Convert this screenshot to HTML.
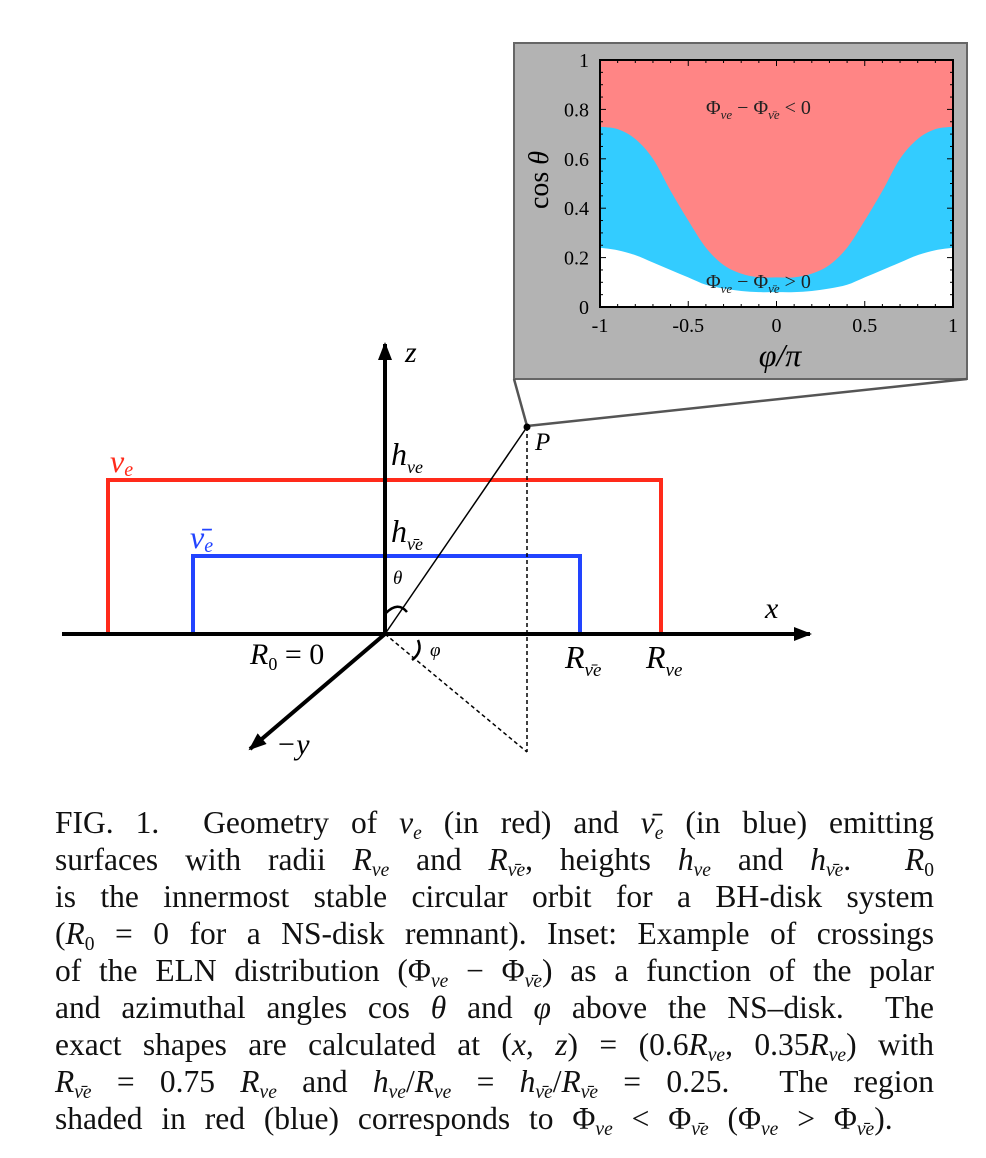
<!DOCTYPE html>
<html><head><meta charset="utf-8">
<style>
body{margin:0;background:#fff;width:986px;height:1158px;overflow:hidden;position:relative;font-family:"Liberation Serif",serif;}
svg{position:absolute;left:0;top:0}
.cap{position:absolute;left:55px;width:879px;font-size:31.5px;text-align:justify;text-align-last:justify;white-space:nowrap;line-height:1;color:#111}
.cap.last{text-align-last:left}
.cap i{font-style:italic}
.cap sub{font-size:0.62em;vertical-align:-0.3em;font-style:italic}
</style></head><body>
<svg id="fig" width="986" height="1158"></svg>

<div class="cap" style="top:807px">FIG. 1.&nbsp; Geometry of <i>ν<sub>e</sub></i> (in red) and <i>ν̄<sub>e</sub></i> (in blue) emitting</div>
<div class="cap" style="top:844px">surfaces with radii <i>R<sub>νe</sub></i> and <i>R<sub>ν̄e</sub></i>, heights <i>h<sub>νe</sub></i> and <i>h<sub>ν̄e</sub></i>.&nbsp; <i>R</i><sub style="font-style:normal">0</sub></div>
<div class="cap" style="top:881px">is the innermost stable circular orbit for a BH-disk system</div>
<div class="cap" style="top:918px">(<i>R</i><sub style="font-style:normal">0</sub> = 0 for a NS-disk remnant). Inset: Example of crossings</div>
<div class="cap" style="top:955px">of the ELN distribution (Φ<sub>νe</sub> − Φ<sub>ν̄e</sub>) as a function of the polar</div>
<div class="cap" style="top:992px">and azimuthal angles cos <i>θ</i> and <i>φ</i> above the NS–disk.&nbsp; The</div>
<div class="cap" style="top:1029px">exact shapes are calculated at (<i>x, z</i>) = (0.6<i>R<sub>νe</sub></i>, 0.35<i>R<sub>νe</sub></i>) with</div>
<div class="cap" style="top:1066px"><i>R<sub>ν̄e</sub></i> = 0.75 <i>R<sub>νe</sub></i> and <i>h<sub>νe</sub></i>/<i>R<sub>νe</sub></i> = <i>h<sub>ν̄e</sub></i>/<i>R<sub>ν̄e</sub></i> = 0.25.&nbsp; The region</div>
<div class="cap last" style="top:1103px;word-spacing:11px">shaded in red (blue) corresponds to Φ<sub>νe</sub> &lt; Φ<sub>ν̄e</sub> (Φ<sub>νe</sub> &gt; Φ<sub>ν̄e</sub>).</div>

<script>
const phiVals=[-1,-0.9,-0.8,-0.7,-0.6,-0.5,-0.4,-0.3,-0.2,-0.1,0,0.1,0.2,0.3,0.4,0.5,0.6,0.7,0.8,0.9,1];
const upperCos=[0.73,0.72,0.68,0.6,0.47,0.35,0.24,0.17,0.135,0.12,0.12,0.12,0.135,0.17,0.24,0.35,0.47,0.6,0.68,0.72,0.73];
const lowerCos=[0.24,0.23,0.21,0.18,0.15,0.12,0.09,0.075,0.065,0.06,0.06,0.06,0.065,0.075,0.09,0.12,0.15,0.18,0.21,0.23,0.24];
const xTicks=[-1,-0.5,0,0.5,1];
const xTickLabels=["-1","-0.5","0","0.5","1"];
const yTicks=[0,0.2,0.4,0.6,0.8,1];
const yTickLabels=["0","0.2","0.4","0.6","0.8","1"];

const NS="http://www.w3.org/2000/svg";
const svg=document.getElementById('fig');
function mk(tag,attrs,parent){const e=document.createElementNS(NS,tag);for(const k in attrs)e.setAttribute(k,attrs[k]);(parent||svg).appendChild(e);return e;}
const L=600,R=953,T=60,B=307;
const sx=p=>L+(p+1)/2*(R-L);
const sy=c=>B-c*(B-T);
function smooth(pts){let s='';for(let i=0;i<pts.length-1;i++){const p0=pts[Math.max(0,i-1)],p1=pts[i],p2=pts[i+1],p3=pts[Math.min(pts.length-1,i+2)];
 const c1=[p1[0]+(p2[0]-p0[0])/6,p1[1]+(p2[1]-p0[1])/6],c2=[p2[0]-(p3[0]-p1[0])/6,p2[1]-(p3[1]-p1[1])/6];
 s+=' C'+c1[0]+','+c1[1]+' '+c2[0]+','+c2[1]+' '+p2[0]+','+p2[1];}return s;}
const upPts=phiVals.map((p,i)=>[sx(p),sy(upperCos[i])]);
const loPts=phiVals.map((p,i)=>[sx(p),sy(lowerCos[i])]);

let e;
e=mk('rect',{x:514,y:43,width:453,height:336,fill:'#b3b3b3',stroke:'#666','stroke-width':2});


e=mk('rect',{x:L,y:T,width:R-L,height:B-T,fill:'#ff8585'});


e=mk('path',{d:'M'+L+','+B+' L'+upPts[0].join(',')+smooth(upPts)+' L'+R+','+B+' Z',fill:'#33ccff'});


e=mk('path',{d:'M'+L+','+B+' L'+loPts[0].join(',')+smooth(loPts)+' L'+R+','+B+' Z',fill:'#fff'});


e=mk('rect',{x:L,y:T,width:R-L,height:B-T,fill:'none',stroke:'#000','stroke-width':2});


for(let k=0;k<=20;k++){const v=-1+k*0.1;const x=sx(v);const len=(k%5===0)?6:3;
 mk('line',{x1:x,y1:B,x2:x,y2:B-len,stroke:'#000','stroke-width':1});mk('line',{x1:x,y1:T,x2:x,y2:T+len,stroke:'#000','stroke-width':1});}
for(let k=0;k<=20;k++){const v=k*0.05;const y=sy(v);const len=(k%4===0)?6:3;
 mk('line',{x1:L,y1:y,x2:L+len,y2:y,stroke:'#000','stroke-width':1});mk('line',{x1:R,y1:y,x2:R-len,y2:y,stroke:'#000','stroke-width':1});}
xTicks.forEach((v,i)=>{e=mk('text',{x:sx(v),y:B+25,'text-anchor':'middle','font-size':20,'font-family':'Liberation Serif, serif'});e.textContent=xTickLabels[i];
 
 });
yTicks.forEach((v,i)=>{e=mk('text',{x:589,y:sy(v)+7,'text-anchor':'end','font-size':20,'font-family':'Liberation Serif, serif'});e.textContent=yTickLabels[i];
 
 });
e=mk('text',{x:0,y:0,transform:'translate(548,180) rotate(-90)','text-anchor':'middle','font-size':28,'font-family':'Liberation Serif, serif'});
e.innerHTML='cos <tspan font-style="italic">θ</tspan>';


e=mk('text',{x:780,y:366,'text-anchor':'middle','font-size':32,'font-family':'Liberation Serif, serif','font-style':'italic'});
e.textContent='φ/π';


e=mk('text',{x:706,y:114,'font-size':20,'font-family':'Liberation Serif, serif','fill':'#222'});
e.innerHTML='Φ<tspan font-size="13" dy="5" font-style="italic">νe</tspan><tspan dy="-5"> − Φ</tspan><tspan font-size="13" dy="5" font-style="italic">ν̄e</tspan><tspan dy="-5"> &lt; 0</tspan>';


e=mk('text',{x:706,y:288,'font-size':20,'font-family':'Liberation Serif, serif','fill':'#222'});
e.innerHTML='Φ<tspan font-size="13" dy="5" font-style="italic">νe</tspan><tspan dy="-5"> − Φ</tspan><tspan font-size="13" dy="5" font-style="italic">ν̄e</tspan><tspan dy="-5"> &gt; 0</tspan>';



mk('line',{x1:514,y1:379,x2:527,y2:426,stroke:'#555','stroke-width':2.5});
mk('line',{x1:967,y1:379,x2:527,y2:426,stroke:'#555','stroke-width':2.5});

const defs=mk('defs',{});
const big=mk('marker',{id:'ab',markerWidth:18,markerHeight:14,refX:16,refY:7,orient:'auto',markerUnits:'userSpaceOnUse'},defs);
mk('path',{d:'M0,0 L18,7 L0,14 Z',fill:'#000'},big);

e=mk('polyline',{points:'108,633 108,480 661,480 661,633',fill:'none',stroke:'#ff2a1a','stroke-width':4});


e=mk('polyline',{points:'193,633 193,556 580,556 580,633',fill:'none',stroke:'#2244ff','stroke-width':4});


e=mk('line',{x1:62,y1:634,x2:810,y2:634,stroke:'#000','stroke-width':4,'marker-end':'url(#ab)'});


e=mk('line',{x1:385,y1:634,x2:385,y2:344,stroke:'#000','stroke-width':4,'marker-end':'url(#ab)'});


e=mk('line',{x1:385,y1:634,x2:250,y2:749,stroke:'#000','stroke-width':4,'marker-end':'url(#ab)'});


mk('line',{x1:385,y1:634,x2:527,y2:427,stroke:'#000','stroke-width':1.5});
mk('line',{x1:527,y1:427,x2:527,y2:752,stroke:'#000','stroke-width':1.5,'stroke-dasharray':'4,3'});
mk('line',{x1:385,y1:634,x2:527,y2:752,stroke:'#000','stroke-width':1.5,'stroke-dasharray':'4,3'});
mk('circle',{cx:527,cy:427,r:3.5,fill:'#000'});
mk('path',{d:'M386,613 Q398,601 407,612',fill:'none',stroke:'#000','stroke-width':2.5});
mk('path',{d:'M418,640 Q423,652 412,660',fill:'none',stroke:'#000','stroke-width':2.5});

function lbl(x,y,html,size,name,fill){const t=mk('text',{x:x,y:y,'font-size':size,'font-family':'Liberation Serif, serif','font-style':'italic',fill:fill||'#000'});t.innerHTML=html;
 
 return t;}
lbl(405,362,'z',30,'z-label');
lbl(765,618,'x',30,'x-label');
lbl(276,754,'−y',30,'minus-y-label');
lbl(535,450,'P',25,'point-p-label');
lbl(391,465,'h<tspan font-size="18" dy="8">νe</tspan>',32,'h-nu-e-label');
lbl(391,542,'h<tspan font-size="18" dy="8">ν̄e</tspan>',32,'h-nubar-e-label');
lbl(393,584,'θ',19,'theta-label');
lbl(430,656,'φ',19,'phi-label');
lbl(110,472,'ν<tspan font-size="20" dy="4">e</tspan>',32,'nu-e-label','#ff2a1a');
lbl(190,548,'ν̄<tspan font-size="20" dy="4">e</tspan>',32,'nubar-e-label','#2244ff');
lbl(250,664,'R<tspan font-size="18" dy="6" font-style="normal">0</tspan><tspan dy="-6" font-style="normal"> = 0</tspan>',30,'r0-label');
lbl(565,668,'R<tspan font-size="19" dy="8">ν̄e</tspan>',32,'r-nubar-label');
lbl(646,668,'R<tspan font-size="19" dy="8">νe</tspan>',32,'r-nu-label');
</script>
</body></html>
